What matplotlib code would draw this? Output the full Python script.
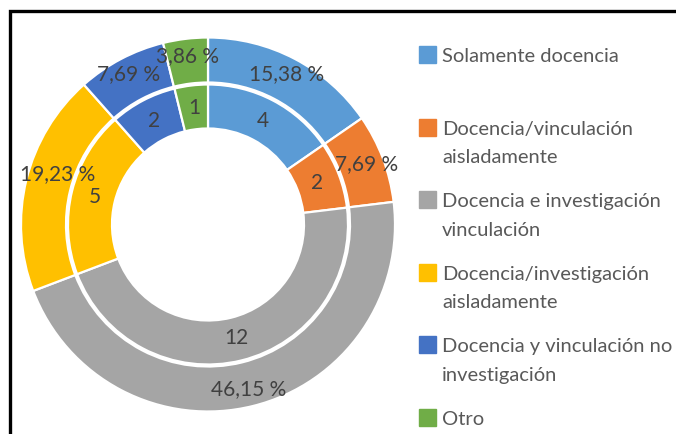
import numpy as np
import matplotlib.pyplot as plt
from matplotlib.patches import Rectangle

# data
categorias = ['Solamente docencia',
              'Docencia/vinculación\naisladamente',
              'Docencia e investigación\nvinculación',
              'Docencia/investigación\naisladamente',
              'Docencia y vinculación no\ninvestigación',
              'Otro']
conteos = [4, 2, 12, 5, 2, 1]
porcentajes = [15.38, 7.69, 46.15, 19.23, 7.69, 3.86]
colores = ['#5B9BD5', '#ED7D31', '#A5A5A5', '#FFC000', '#4472C4', '#70AD47']

plt.rcParams['font.family'] = ['Lato', 'DejaVu Sans']

W, H = 676, 434
fig = plt.figure(figsize=(W / 100, H / 100), dpi=100)
ax = fig.add_axes([0, 0, 1, 1])

cx, cy = 208, H - 224.5
wp = dict(edgecolor='white', linewidth=1.6)

outer, _ = ax.pie(porcentajes, radius=187, center=(cx, cy), colors=colores,
                  startangle=90, counterclock=False,
                  wedgeprops=dict(width=45, **wp))
inner, _ = ax.pie(conteos, radius=140, center=(cx, cy), colors=colores,
                  startangle=90, counterclock=False,
                  wedgeprops=dict(width=44, **wp))

ax.set_xlim(0, W)
ax.set_ylim(0, H)
ax.set_aspect('equal')
ax.axis('off')

rend = fig.canvas.get_renderer()

def etiqueta(w, r, txt):
    ang = np.deg2rad((w.theta1 + w.theta2) / 2)
    t = ax.text(cx + r * np.cos(ang), cy + r * np.sin(ang), txt,
                ha='center', va='center', fontsize=15, color='#404040')
    # keep labels inside the frame, like excel does
    bb = t.get_window_extent(rend)
    if bb.x0 < 20:
        x, y = t.get_position()
        t.set_position((x + 20 - bb.x0, y + 10))

for w, p in zip(outer, porcentajes):
    etiqueta(w, 170, ('%.2f %%' % p).replace('.', ','))
for w, c in zip(inner, conteos):
    etiqueta(w, 117, str(c))

# legend drawn by hand
y0 = 54.5
for i, (cat, col) in enumerate(zip(categorias, colores)):
    y = y0 + i * 72.6
    fig.patches.append(Rectangle((419 / W, 1 - (y + 8.5) / H), 17 / W, 17 / H,
                                 transform=fig.transFigure, color=col))
    for j, linea in enumerate(cat.split('\n')):
        fig.text(442 / W, 1 - (y + 7.5 + j * 28.5) / H, linea, ha='left',
                 va='baseline', fontsize=14.5, color='#595959')

# frame
fig.patches.append(Rectangle((10 / W, -0.1), 1.2, 1 - 11 / H + 0.1,
                             transform=fig.transFigure, fill=False,
                             edgecolor='black', linewidth=2.4))

fig.savefig('out.png', dpi=100)
